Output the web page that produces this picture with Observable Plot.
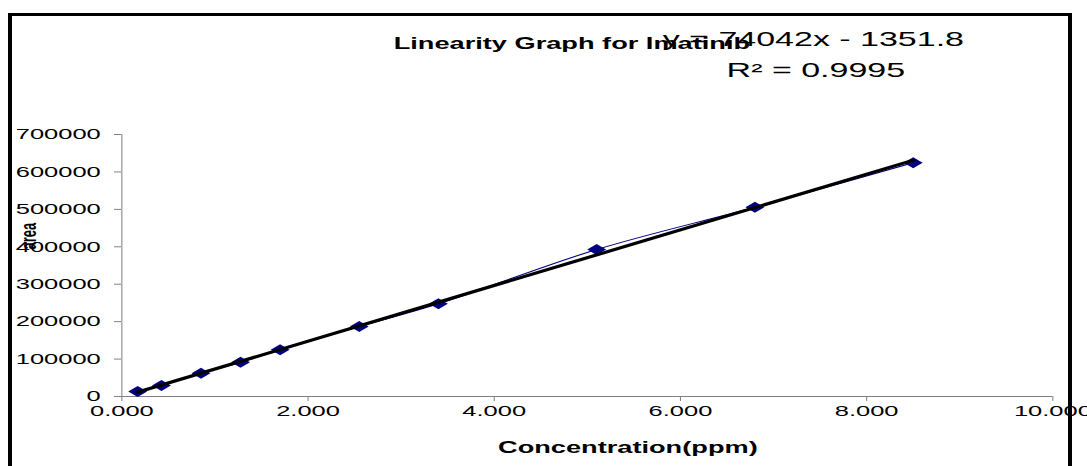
<!DOCTYPE html>
<html>
<head>
<meta charset="utf-8">
<script src="https://cdn.jsdelivr.net/npm/d3@7"></script>
<script src="https://cdn.jsdelivr.net/npm/@observablehq/plot@0.6"></script>
<style>
  html, body { margin: 0; padding: 0; background: #fff; overflow: hidden; }
  #wrap { position: relative; width: 1087px; height: 466px; overflow: hidden; }
  #chart { position: absolute; left: 0; top: 0; transform-origin: 0 0; }
  #frame { position: absolute; left: 8px; top: 13px; width: 1064px; height: 480px;
           box-sizing: border-box; border-top: 3px solid #000; border-left: 4px solid #000; border-right: 4px solid #000; }
</style>
</head>
<body>
<div id="wrap"><div id="chart"></div><div id="frame"></div></div>
<script>
// Data
const concentration = [0.17, 0.425, 0.85, 1.275, 1.7, 2.55, 3.4, 5.1, 6.8, 8.5];
const area = [13400, 29400, 62200, 91600, 124800, 187000, 247700, 392700, 505800, 624400];
const xTicks = [0, 2, 4, 6, 8, 10];
const yTicks = [0, 100000, 200000, 300000, 400000, 500000, 600000, 700000];
const titleText = "Linearity Graph for Imatinib";
const equationText = "y = 74042x - 1351.8";
const r2Text = "R\u00B2 = 0.9995";
const xLabel = "Concentration(ppm)";
const yLabel = "area";

const points = concentration.map((c, i) => ({conc: c, area: area[i]}));

// The reference is a horizontally stretched Excel chart: draw narrow, stretch by S.
const S = 1.7;
const W = 640;
const font = "'Liberation Sans', Arial, sans-serif";
const midX = (121 / S + 1052 / S) / 2;

const chart = Plot.plot({
  width: W,
  height: 466,
  marginLeft: 121 / S,
  marginRight: W - 1052 / S,
  marginTop: 134,
  marginBottom: 70,
  style: {fontFamily: font, fontSize: "15px", background: "transparent", overflow: "visible", color: "#000"},
  x: {domain: [0, 10]},
  y: {domain: [0, 700000]},
  marks: [
    Plot.ruleY([0], {stroke: "#808080", strokeWidth: 1}),
    Plot.ruleX([0], {stroke: "#808080", strokeWidth: 0.6}),
    Plot.axisX({ticks: xTicks, tickFormat: d3.format(".3f"), tickSize: 5, tickPadding: 4,
                stroke: "#808080", strokeWidth: 0.6, label: null, fontSize: 15}),
    Plot.axisY({ticks: yTicks, tickFormat: d => String(d), tickSize: 4.1, tickPadding: 8.3,
                stroke: "#808080", strokeWidth: 1, label: null, fontSize: 15}),
    Plot.line(points, {x: "conc", y: "area", stroke: "#000080", strokeWidth: 1, curve: "catmull-rom"}),
    Plot.dot(points, {x: "conc", y: "area", symbol: "diamond2", r: 5, fill: "#000080", stroke: "none"}),
    Plot.linearRegressionY(points, {x: "conc", y: "area", stroke: "#000", strokeWidth: 3, ci: 0}),
    Plot.text([titleText], {frameAnchor: "top", text: d => d, dx: 571 / S - midX, dy: -97,
                            fontWeight: "bold", fontSize: 16, fill: "#000"}),
    Plot.text([equationText], {frameAnchor: "top", text: d => d, dx: 812.5 / S - midX, dy: -103,
                               fontSize: 20, fill: "#000"}),
    Plot.text([r2Text], {frameAnchor: "top", text: d => d, dx: 815 / S - midX, dy: -71.5,
                         fontSize: 20, fill: "#000"}),
    Plot.text([xLabel], {frameAnchor: "bottom", text: d => d, dx: 627 / S - midX, dy: 56,
                         fontWeight: "bold", fontSize: 16, fill: "#000"}),
    Plot.text([yLabel], {frameAnchor: "left", text: d => d, dx: 28 / S - 121 / S, dy: -16, rotate: -90,
                         fontWeight: "bold", fontSize: 13, fill: "#000"})
  ]
});
const holder = document.getElementById("chart");
holder.style.transform = `scaleX(${S})`;
holder.appendChild(chart);
</script>
</body>
</html>
